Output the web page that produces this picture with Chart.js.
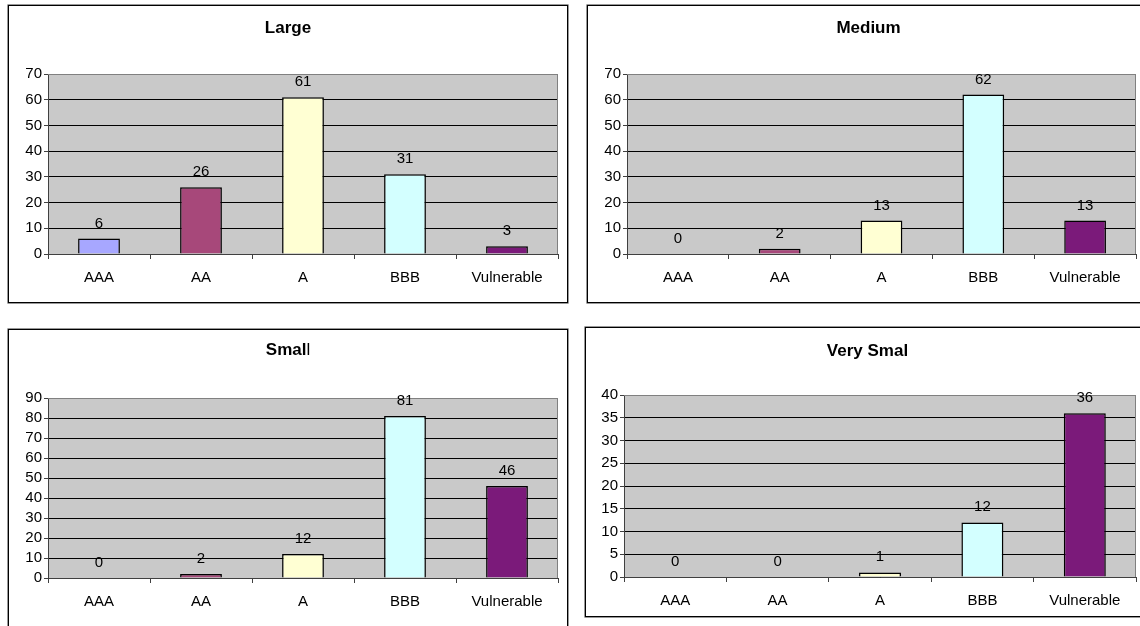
<!DOCTYPE html>
<html>
<head>
<meta charset="utf-8">
<script src="https://cdn.jsdelivr.net/npm/chart.js@4/dist/chart.umd.min.js"></script>
<style>
  html, body { margin: 0; padding: 0; background: #fff; }
  body { width: 1140px; height: 626px; position: relative; overflow: hidden; }
  .panel { position: absolute; border: 1px solid #000; background: #fff; box-shadow: 0 0 0 0.6px #555; }
  .panel canvas { display: block; }
</style>
</head>
<body>
<div class="panel" id="p0"><canvas id="c0"></canvas></div>
<div class="panel" id="p1"><canvas id="c1"></canvas></div>
<div class="panel" id="p2"><canvas id="c2"></canvas></div>
<div class="panel" id="p3"><canvas id="c3"></canvas></div>
<script>
// Rating categories shared by every panel
const categories = ['AAA', 'AA', 'A', 'BBB', 'Vulnerable'];

// Counts per rating, one array per size class
const largeValues = [6, 26, 61, 31, 3];
const mediumValues = [0, 2, 13, 62, 13];
const smallValues = [0, 2, 12, 81, 46];
const verySmallValues = [0, 0, 1, 12, 36];

// Panel titles (segments: text, weight)
const largeTitle = [['Large', 'bold']];
const mediumTitle = [['Medium', 'bold']];
const smallTitle = [['Smal', 'bold'], ['l', 'normal']];
const verySmallTitle = [['Very Smal', 'bold']];

// Value axis ranges
const axisMax = [70, 70, 90, 40];
const axisStep = [10, 10, 10, 5];

// One fill colour per rating
const barColors = ['#A7A7FF', '#A7487A', '#FFFFD3', '#D3FFFF', '#7B1A7A'];

const FONT = '"Liberation Sans", Arial, sans-serif';

// Panel geometry: outer box, canvas size and inner plot margins
const panels = [
  { box: [8, 5],   size: [558, 296], pad: { top: 68, right: 9 },  yW: 39, xH: 48, titleY: 27, values: largeValues,     title: largeTitle },
  { box: [587, 5], size: [561, 296], pad: { top: 68, right: 13 }, yW: 39, xH: 48, titleY: 27, values: mediumValues,    title: mediumTitle },
  { box: [8, 329], size: [558, 296], pad: { top: 68, right: 9 },  yW: 39, xH: 48, titleY: 25, values: smallValues,     title: smallTitle },
  { box: [585, 327], size: [563, 288], pad: { top: 67, right: 13 }, yW: 38, xH: 39, titleY: 28, values: verySmallValues, title: verySmallTitle }
];

// Grey plot-area fill plus the grey top/right frame
const plotFrame = {
  id: 'plotFrame',
  beforeDraw(chart) {
    const a = chart.chartArea, ctx = chart.ctx;
    ctx.save();
    ctx.fillStyle = '#C9C9C9';
    ctx.fillRect(a.left, a.top, a.right - a.left, a.bottom - a.top);
    ctx.restore();
  },
  beforeDatasetsDraw(chart) {
    const a = chart.chartArea, ctx = chart.ctx;
    ctx.save();
    ctx.strokeStyle = '#808080';
    ctx.lineWidth = 1;
    ctx.beginPath();
    ctx.moveTo(Math.round(a.left), Math.round(a.top) + 0.5);
    ctx.lineTo(Math.round(a.right) - 0.5, Math.round(a.top) + 0.5);
    ctx.lineTo(Math.round(a.right) - 0.5, Math.round(a.bottom));
    ctx.stroke();
    ctx.restore();
  }
};

// Value labels above each bar
const valueLabels = {
  id: 'valueLabels',
  afterDatasetsDraw(chart) {
    const ctx = chart.ctx;
    const meta = chart.getDatasetMeta(0);
    const data = chart.data.datasets[0].data;
    ctx.save();
    ctx.font = '15px ' + FONT;
    ctx.fillStyle = '#000';
    ctx.textAlign = 'center';
    ctx.textBaseline = 'alphabetic';
    meta.data.forEach((bar, i) => {
      ctx.fillText(String(data[i]), bar.x, bar.y - 11);
    });
    ctx.restore();
  }
};

// Centred title made of styled segments
const panelTitle = {
  id: 'panelTitle',
  afterDraw(chart, args, opts) {
    const ctx = chart.ctx;
    const parts = opts.parts || [];
    ctx.save();
    ctx.fillStyle = '#000';
    ctx.textBaseline = 'alphabetic';
    ctx.textAlign = 'left';
    let total = 0;
    const widths = parts.map(([t, w]) => {
      ctx.font = w + ' 17px ' + FONT;
      const m = ctx.measureText(t).width;
      total += m;
      return m;
    });
    let x = chart.width / 2 - total / 2;
    parts.forEach(([t, w], i) => {
      ctx.font = w + ' 17px ' + FONT;
      ctx.fillText(t, x, opts.y);
      x += widths[i];
    });
    ctx.restore();
  }
};

panels.forEach((p, i) => {
  const div = document.getElementById('p' + i);
  div.style.left = p.box[0] + 'px';
  div.style.top = p.box[1] + 'px';
  div.style.width = p.size[0] + 'px';
  div.style.height = p.size[1] + 'px';
  const canvas = document.getElementById('c' + i);
  canvas.width = p.size[0];
  canvas.height = p.size[1];
  canvas.style.width = p.size[0] + 'px';
  canvas.style.height = p.size[1] + 'px';

  const max = axisMax[i];
  new Chart(canvas, {
    type: 'bar',
    data: {
      labels: categories,
      datasets: [{
        data: p.values,
        backgroundColor: barColors,
        borderColor: '#000',
        borderWidth: 1.5,
        borderSkipped: 'start',
        barPercentage: 0.41,
        categoryPercentage: 1
      }]
    },
    options: {
      responsive: false,
      animation: false,
      devicePixelRatio: 1,
      layout: { padding: { left: 0, top: p.pad.top, right: p.pad.right, bottom: 0 } },
      plugins: {
        legend: { display: false },
        tooltip: { enabled: false },
        title: { display: false },
        panelTitle: { parts: p.title, y: p.titleY }
      },
      scales: {
        x: {
          offset: true,
          grid: { drawOnChartArea: false, drawTicks: true, tickLength: 5, color: '#404040', offset: true },
          border: { color: '#404040', width: 1 },
          ticks: { font: { family: FONT, size: 15 }, color: '#000', padding: 10, maxRotation: 0, autoSkip: false },
          afterFit(s) { s.height = p.xH; }
        },
        y: {
          min: 0,
          max: max,
          ticks: { stepSize: axisStep[i], autoSkip: false, font: { family: FONT, size: 15 }, color: '#000', padding: 2 },
          grid: {
            color: ctx => (ctx.tick && ctx.tick.value === max) ? '#808080' : '#000',
            tickColor: '#404040',
            tickLength: 4,
            drawTicks: true
          },
          border: { color: '#404040', width: 1 },
          afterFit(s) { s.width = p.yW; }
        }
      }
    },
    plugins: [plotFrame, valueLabels, panelTitle]
  });
});
</script>
</body>
</html>
